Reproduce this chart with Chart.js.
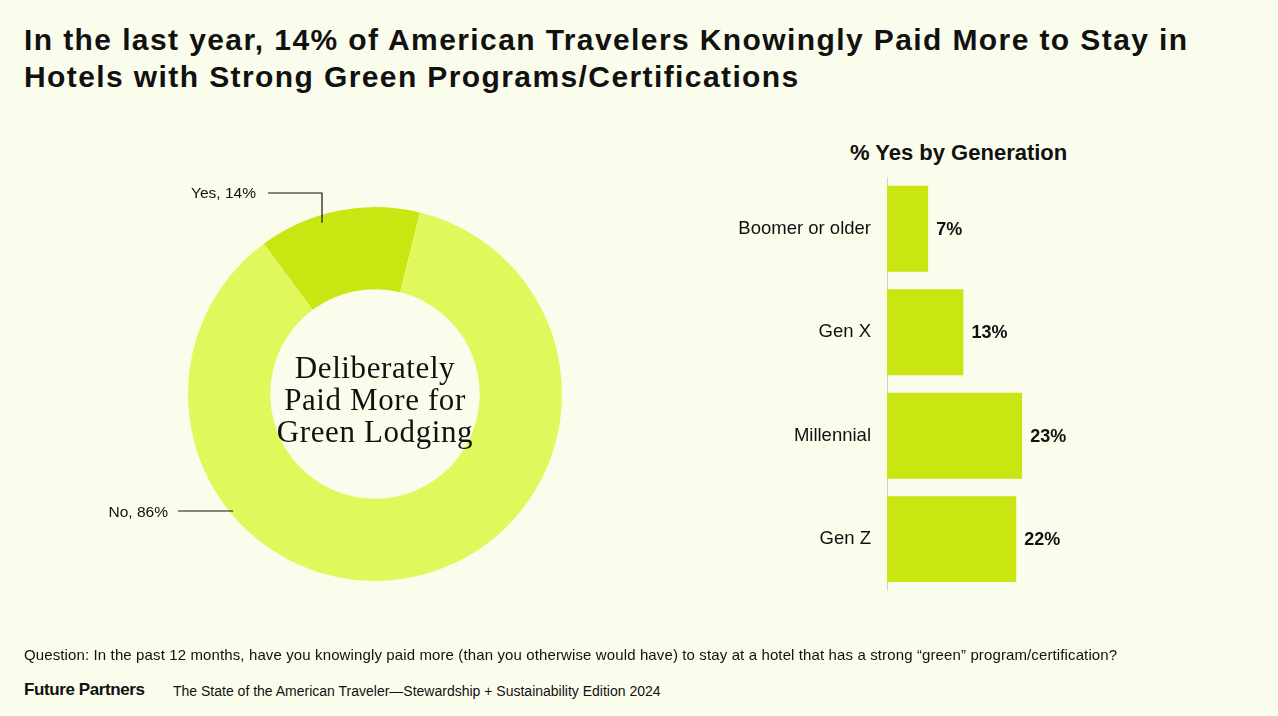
<!DOCTYPE html>
<html>
<head>
<meta charset="utf-8">
<script src="https://cdn.jsdelivr.net/npm/chart.js@4.4.0/dist/chart.umd.min.js"></script>
<style>
    body { margin: 0; background: #fbfdec; width: 1278px; height: 716px; overflow: hidden; position: relative; font-family: "Liberation Sans", Arial, sans-serif; color: #111; }
    .title { position: absolute; left: 24px; top: 21px; font-size: 30px; font-weight: bold; line-height: 37px; letter-spacing: 1.4px; }
    .sub { position: absolute; left: 850px; top: 140px; font-size: 22px; font-weight: bold; }
    .center { position: absolute; left: 255px; top: 352px; width: 240px; text-align: center; font-family: "Liberation Serif", serif; font-size: 31px; line-height: 32px; letter-spacing: 0.6px; color: #111; }
    .question { position: absolute; left: 24px; top: 646px; font-size: 15px; letter-spacing: 0.12px; }
    .brand { position: absolute; left: 24px; top: 680px; font-size: 17px; font-weight: bold; letter-spacing: -0.4px; }
    .source { position: absolute; left: 173px; top: 683px; font-size: 14px; }
    #donut { position: absolute; left: 0; top: 120px; }
    #bars { position: absolute; left: 700px; top: 130px; }
</style>
</head>
<body>
<div class="title">In the last year, 14% of American Travelers Knowingly Paid More to Stay in<br>Hotels with Strong Green Programs/Certifications</div>
<div class="sub">% Yes by Generation</div>
<canvas id="donut" width="750" height="548"></canvas>
<canvas id="bars" width="578" height="480"></canvas>
<div class="center">Deliberately<br>Paid More for<br>Green Lodging</div>
<div class="question">Question: In the past 12 months, have you knowingly paid more (than you otherwise would have) to stay at a hotel that has a strong “green” program/certification?</div>
<div class="brand">Future Partners</div>
<div class="source">The State of the American Traveler—Stewardship + Sustainability Edition 2024</div>
<script>
const donutLabels = ['Yes', 'No'];
const donutValues = [14, 86];
const donutColors = ['#c9e612', '#e0f85c'];

const generations = ['Boomer or older', 'Gen X', 'Millennial', 'Gen Z'];
const yesPct = [7, 13, 23, 22];

const ink = '#111';

// leader lines + labels for the doughnut
const donutCallouts = {
    id: 'donutCallouts',
    afterDraw(chart) {
        const ctx = chart.ctx;
        const arc = chart.getDatasetMeta(0).data[0];
        const cx = arc.x, cy = arc.y, r = arc.outerRadius;
        ctx.save();
        ctx.strokeStyle = ink;
        ctx.lineWidth = 1.2;
        ctx.fillStyle = ink;
        ctx.font = '15.5px "Liberation Sans", Arial, sans-serif';
        ctx.textBaseline = 'middle';

        // Yes
        let yy = cy - r - 14;
        let vx = cx - 53;
        let edgeY = cy - Math.sqrt(r * r - 53 * 53);
        ctx.beginPath();
        ctx.moveTo(cx - 107, yy);
        ctx.lineTo(vx, yy);
        ctx.lineTo(vx, edgeY + 8);
        ctx.stroke();
        ctx.textAlign = 'right';
        ctx.fillText(donutLabels[0] + ', ' + donutValues[0] + '%', cx - 119, yy + 1);

        // No
        let ny = cy + 117;
        let ex = cx - Math.sqrt(r * r - 117 * 117);
        ctx.beginPath();
        ctx.moveTo(cx - 197, ny);
        ctx.lineTo(ex + 4, ny);
        ctx.stroke();
        ctx.fillText(donutLabels[1] + ', ' + donutValues[1] + '%', cx - 207, ny + 2);
        ctx.restore();
    }
};

new Chart(document.getElementById('donut'), {
    type: 'doughnut',
    data: {
        labels: donutLabels,
        datasets: [{
            data: donutValues,
            backgroundColor: donutColors,
            borderWidth: 0
        }]
    },
    options: {
        responsive: false,
        animation: false,
        rotation: -36.5,
        radius: 187,
        cutout: '56%',
        plugins: { legend: { display: false }, tooltip: { enabled: false } }
    },
    plugins: [donutCallouts]
});

// value labels after each bar
const barValues = {
    id: 'barValues',
    afterDatasetsDraw(chart) {
        const ctx = chart.ctx;
        ctx.save();
        ctx.fillStyle = ink;
        ctx.font = 'bold 18px "Liberation Sans", Arial, sans-serif';
        ctx.textAlign = 'left';
        ctx.textBaseline = 'middle';
        chart.getDatasetMeta(0).data.forEach((bar, i) => {
            ctx.fillText(yesPct[i] + '%', bar.x + 8, bar.y + 1);
        });
        ctx.restore();
    }
};

new Chart(document.getElementById('bars'), {
    type: 'bar',
    data: {
        labels: generations,
        datasets: [{
            data: yesPct,
            backgroundColor: '#c9e612',
            barPercentage: 0.83,
            categoryPercentage: 1
        }]
    },
    options: {
        responsive: false,
        animation: false,
        indexAxis: 'y',
        layout: { padding: { top: 47, bottom: 5, right: 156, left: 0 } },
        scales: {
            x: { display: false, min: 0, max: 40 },
            y: {
                grid: { display: false },
                border: { display: true, color: '#cfcfcf', width: 1 },
                ticks: {
                    color: ink,
                    padding: 8,
                    font: { size: 18.5, family: '"Liberation Sans", Arial, sans-serif' }
                },
                afterFit: (scale) => { scale.width = 187; }
            }
        },
        plugins: { legend: { display: false }, tooltip: { enabled: false } }
    },
    plugins: [barValues]
});
</script>
</body>
</html>
